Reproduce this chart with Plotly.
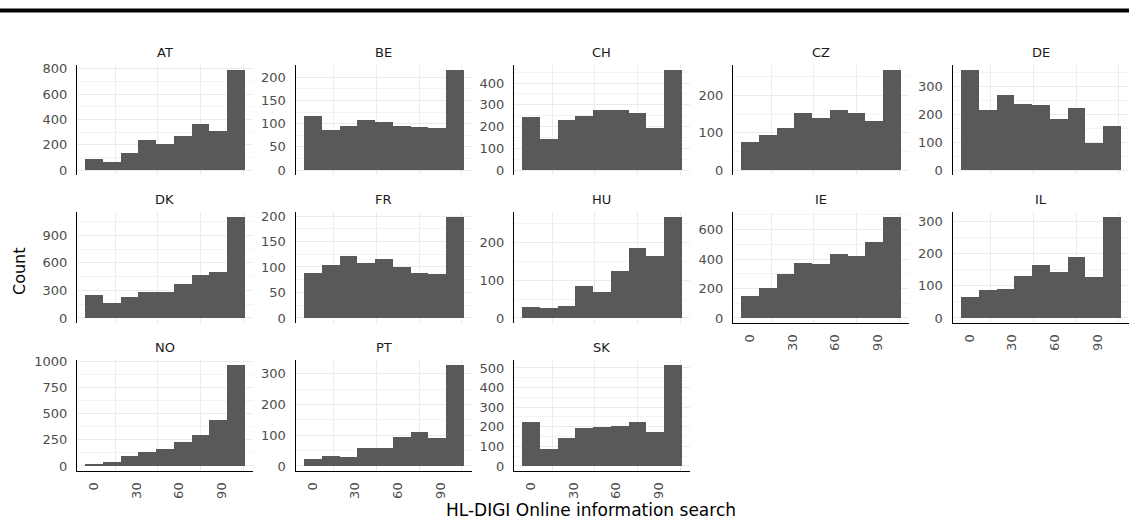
import plotly.graph_objects as go

# Histogram bins (9 bins, width 12.5, centred on 0 .. 100)
bin_centers = [0, 12.5, 25, 37.5, 50, 62.5, 75, 87.5, 100]
bin_width = 12.5

countries = ["AT", "BE", "CH", "CZ", "DE", "DK", "FR", "HU", "IE", "IL", "NO", "PT", "SK"]

# Counts per bin for each country
AT = [87, 66, 136, 236, 205, 265, 367, 312, 790]
BE = [116, 86, 95, 109, 103, 96, 92, 91, 216]
CH = [243, 144, 231, 250, 278, 275, 260, 192, 460]
CZ = [74, 95, 113, 154, 140, 162, 154, 132, 268]
DE = [360, 217, 269, 236, 234, 184, 224, 96, 158]
DK = [249, 165, 227, 285, 278, 373, 465, 502, 1100]
FR = [88, 104, 121, 108, 116, 100, 88, 87, 198]
HU = [29, 27, 32, 85, 69, 124, 185, 164, 268]
IE = [151, 201, 302, 375, 370, 433, 424, 515, 686]
IL = [65, 86, 90, 132, 164, 142, 189, 129, 314]
NO = [16, 35, 99, 131, 163, 230, 300, 441, 965]
PT = [24, 32, 30, 60, 58, 95, 110, 92, 328]
SK = [222, 89, 142, 193, 201, 205, 225, 172, 515]
counts = [AT, BE, CH, CZ, DE, DK, FR, HU, IE, IL, NO, PT, SK]

# Y-axis tick labels per facet
AT_ticks = [0, 200, 400, 600, 800]
BE_ticks = [0, 50, 100, 150, 200]
CH_ticks = [0, 100, 200, 300, 400]
CZ_ticks = [0, 100, 200]
DE_ticks = [0, 100, 200, 300]
DK_ticks = [0, 300, 600, 900]
FR_ticks = [0, 50, 100, 150, 200]
HU_ticks = [0, 100, 200]
IE_ticks = [0, 200, 400, 600]
IL_ticks = [0, 100, 200, 300]
NO_ticks = [0, 250, 500, 750, 1000]
PT_ticks = [0, 100, 200, 300]
SK_ticks = [0, 100, 200, 300, 400, 500]
y_ticks = [AT_ticks, BE_ticks, CH_ticks, CZ_ticks, DE_ticks, DK_ticks, FR_ticks,
           HU_ticks, IE_ticks, IL_ticks, NO_ticks, PT_ticks, SK_ticks]

x_ticks = [0, 30, 60, 90]
x_minor = [15, 45, 75, 105]

W, H = 1129, 529
FONT = "DejaVu Sans"
BAR = "#595959"
GRID = "#EBEBEB"
GRID_MINOR = "#F3F3F3"

# Panel geometry in pixels
col_left = [77, 295.5, 514, 733, 952.5]
panel_w = 176
row_top = [65, 212, 360]
row_bot = [175, 323, 471]
ncol = 5

x_lo = bin_centers[0] - bin_width / 2
x_hi = bin_centers[-1] + bin_width / 2
pad = (x_hi - x_lo) * 0.05
x_range = [x_lo - pad, x_hi + pad]

fig = go.Figure()
layout = {}
annotations = []
n = len(countries)

for i, (name, vals, ticks) in enumerate(zip(countries, counts, y_ticks)):
    k = i + 1
    r, c = divmod(i, ncol)
    xname = "x" if k == 1 else f"x{k}"
    yname = "y" if k == 1 else f"y{k}"
    xkey = "xaxis" if k == 1 else f"xaxis{k}"
    ykey = "yaxis" if k == 1 else f"yaxis{k}"

    fig.add_trace(go.Bar(
        x=bin_centers, y=vals, width=bin_width,
        marker=dict(color=BAR, line=dict(width=0)),
        xaxis=xname, yaxis=yname, showlegend=False,
        hovertemplate=name + ": %{x}<br>Count: %{y}<extra></extra>",
    ))

    x0 = col_left[c] / W
    x1 = (col_left[c] + panel_w) / W
    y0 = 1 - row_bot[r] / H
    y1 = 1 - row_top[r] / H

    # bottom panel of its column gets the x axis line and labels
    is_bottom = (i + ncol) >= n

    layout[xkey] = dict(
        domain=[x0, x1], anchor=yname, range=x_range,
        tickvals=x_ticks, ticktext=[str(t) for t in x_ticks],
        showticklabels=is_bottom, tickangle=-90,
        tickfont=dict(family=FONT, size=13, color="#4D4D4D"),
        showgrid=False, zeroline=False,
        showline=is_bottom, linecolor="black", linewidth=1.3,
        ticks="outside" if is_bottom else "", ticklen=5, tickcolor="rgba(0,0,0,0)",
        minor=dict(tickvals=x_minor, showgrid=True, gridcolor=GRID, gridwidth=0.8),
        automargin=False, fixedrange=True,
    )

    m = max(vals)
    step = ticks[1] - ticks[0]
    y_minor = [t + step / 2 for t in ticks if t + step / 2 < 1.05 * m]
    layout[ykey] = dict(
        domain=[y0, y1], anchor=xname, range=[-0.05 * m, 1.05 * m],
        tickvals=ticks, ticktext=[str(t) for t in ticks],
        tickfont=dict(family=FONT, size=13, color="#4D4D4D"),
        showgrid=True, gridcolor=GRID, gridwidth=1, zeroline=False,
        showline=True, linecolor="black", linewidth=1.3,
        ticks="outside", ticklen=6, tickcolor="rgba(0,0,0,0)",
        minor=dict(tickvals=y_minor, showgrid=True, gridcolor=GRID_MINOR, gridwidth=0.6),
        automargin=False, fixedrange=True,
    )

    annotations.append(dict(
        text=name, x=(x0 + x1) / 2, y=1 - (row_top[r] - 13) / H,
        xref="paper", yref="paper", showarrow=False,
        xanchor="center", yanchor="middle",
        font=dict(family=FONT, size=13, color="#1A1A1A"),
    ))

# axis titles
annotations.append(dict(
    text="HL-DIGI Online information search", x=591 / W, y=1 - 510 / H,
    xref="paper", yref="paper", showarrow=False, xanchor="center", yanchor="middle",
    font=dict(family=FONT, size=17, color="black"),
))
annotations.append(dict(
    text="Count", x=19 / W, y=1 - 271 / H, textangle=-90,
    xref="paper", yref="paper", showarrow=False, xanchor="center", yanchor="middle",
    font=dict(family=FONT, size=16, color="black"),
))

fig.update_layout(
    width=W, height=H,
    margin=dict(l=0, r=0, t=0, b=0),
    paper_bgcolor="white", plot_bgcolor="white",
    bargap=0, showlegend=False,
    annotations=annotations,
    shapes=[dict(type="line", xref="paper", yref="paper",
                 x0=0, x1=1, y0=1 - 10.5 / H, y1=1 - 10.5 / H,
                 line=dict(color="black", width=4))],
    **layout,
)

fig.write_html("out.html", config={"displayModeBar": False})
